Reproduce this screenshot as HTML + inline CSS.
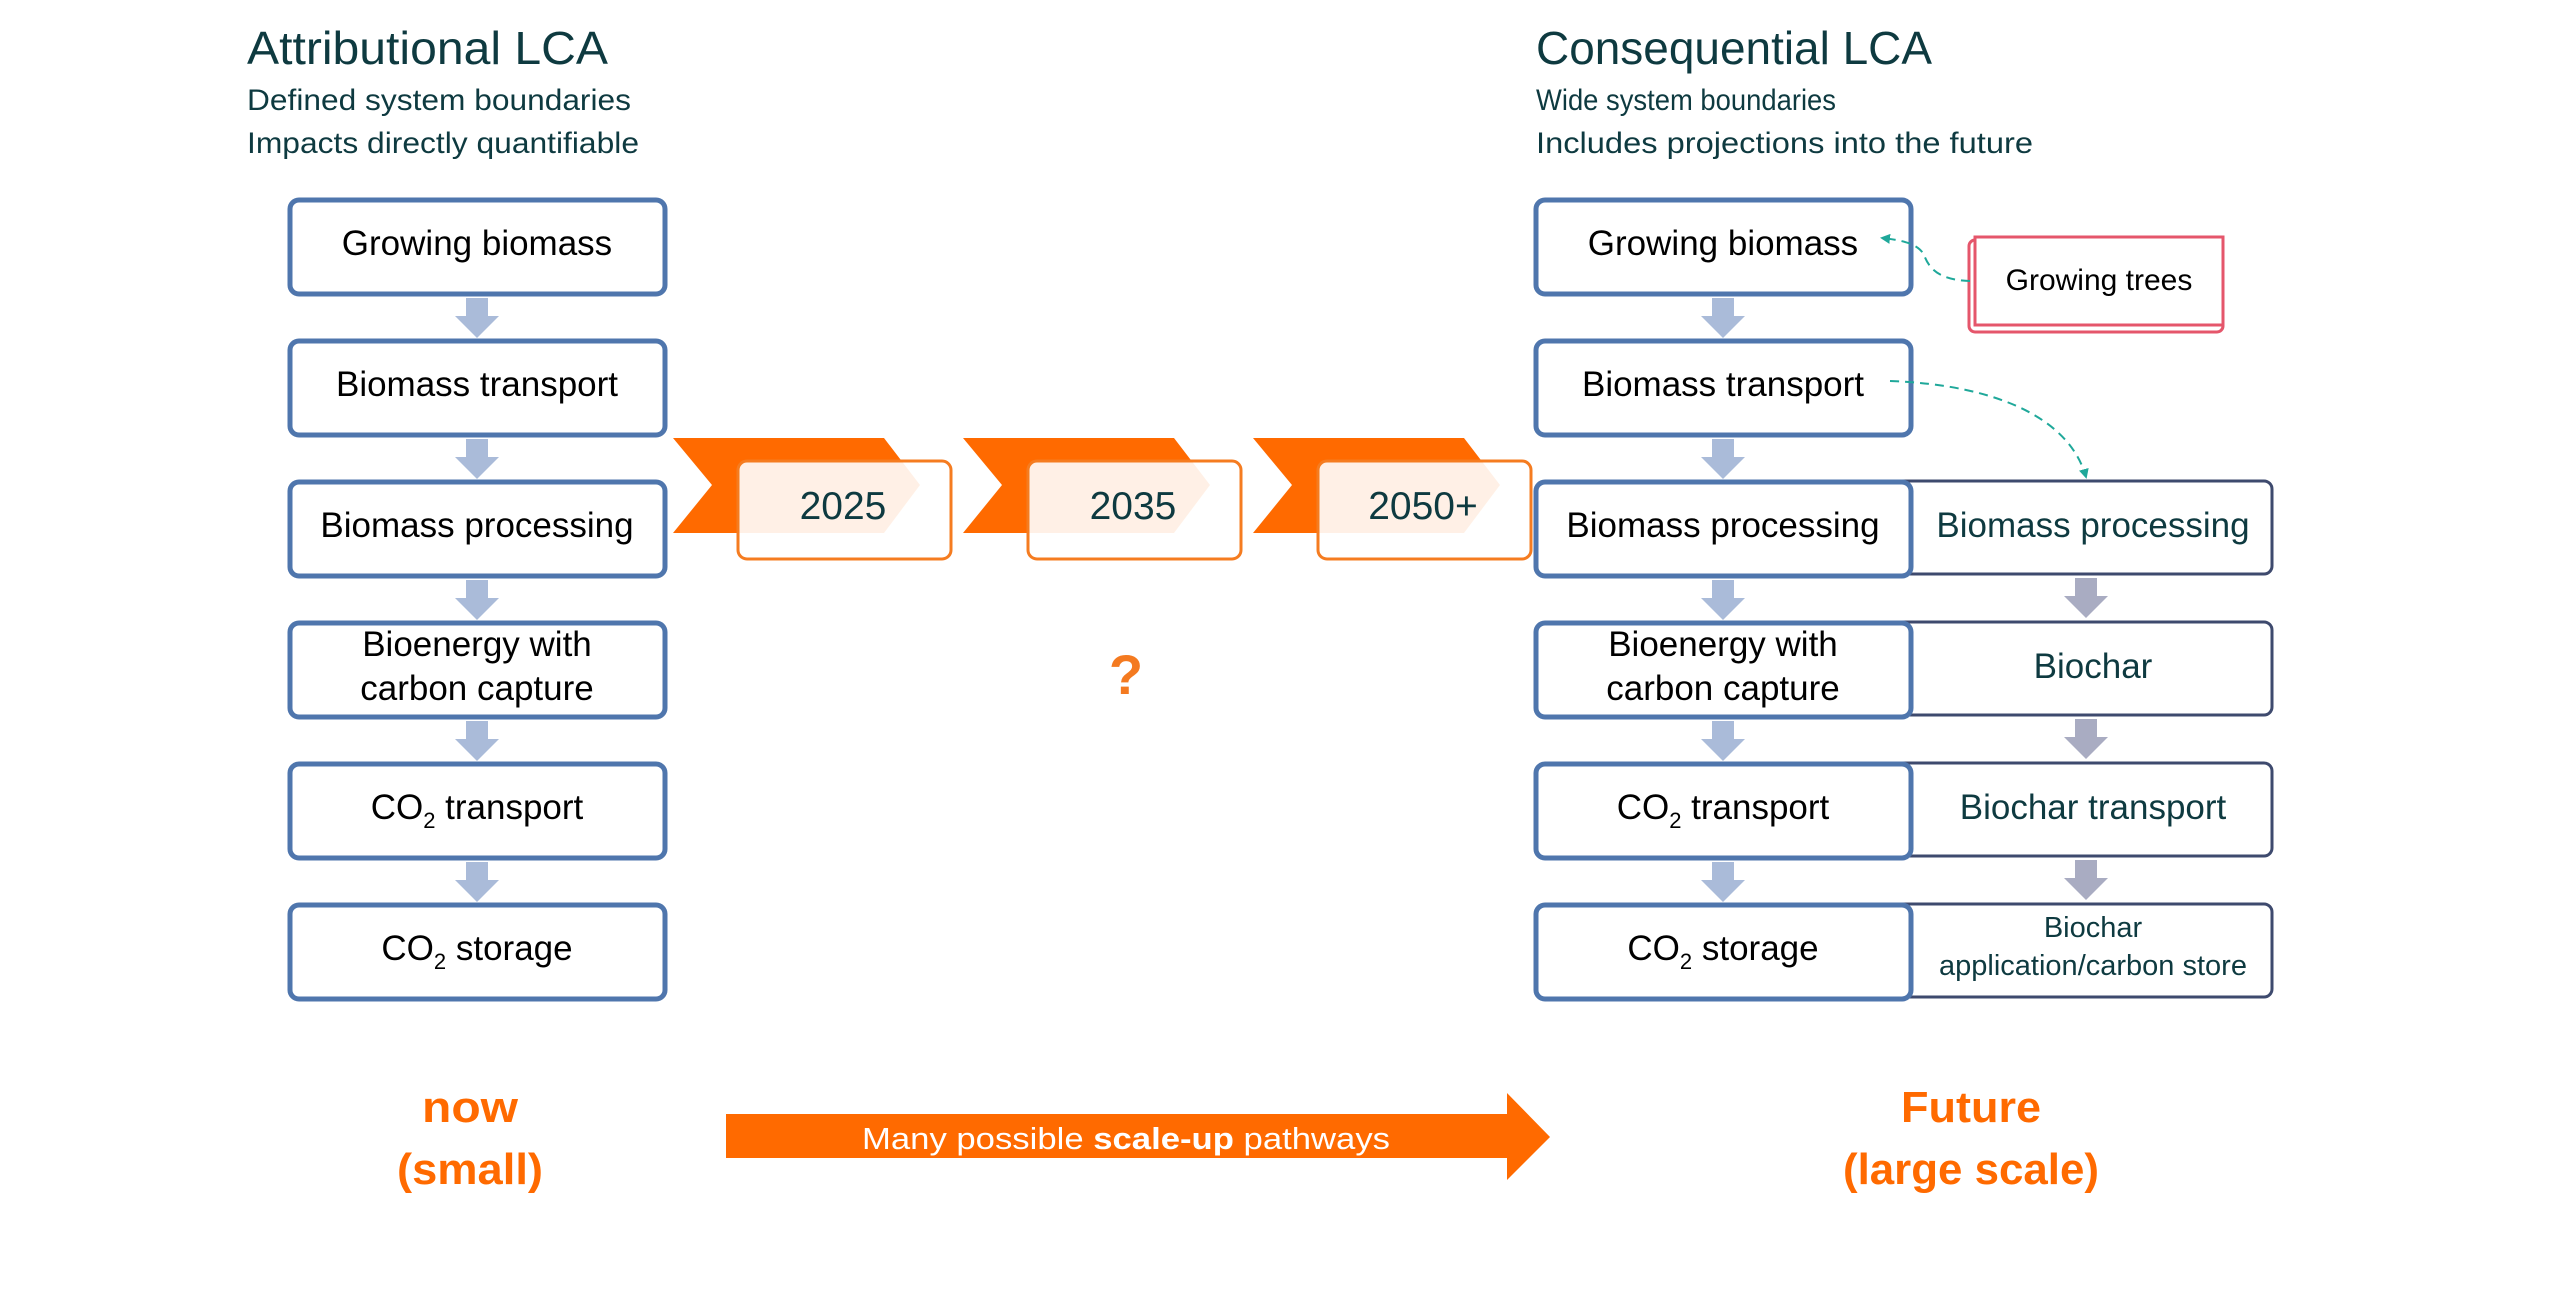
<!DOCTYPE html>
<html><head><meta charset="utf-8"><style>
html,body{margin:0;padding:0;background:#fff}
svg{display:block}
text{font-family:"Liberation Sans",sans-serif}
</style></head><body>
<svg width="2560" height="1292" viewBox="0 0 2560 1292" xmlns="http://www.w3.org/2000/svg">
<defs>
<g id="darr"><polygon points="-11,0 11,0 11,18 22,18 0,40 -22,18 -11,18"/></g>
<marker id="tm" markerWidth="10" markerHeight="10" refX="8" refY="5" orient="auto" markerUnits="userSpaceOnUse" viewBox="0 0 10 10"><polygon points="0,0 10,5 0,10" fill="#1fa89a"/></marker>
</defs>
<g fill="#0e3a40">
<text x="247" y="64" font-size="46" textLength="361" lengthAdjust="spacingAndGlyphs">Attributional LCA</text>
<text x="247" y="110" font-size="30" textLength="384" lengthAdjust="spacingAndGlyphs">Defined system boundaries</text>
<text x="247" y="153" font-size="30" textLength="392" lengthAdjust="spacingAndGlyphs">Impacts directly quantifiable</text>
<text x="1536" y="64" font-size="46" textLength="396" lengthAdjust="spacingAndGlyphs">Consequential LCA</text>
<text x="1536" y="110" font-size="30" textLength="300" lengthAdjust="spacingAndGlyphs">Wide system boundaries</text>
<text x="1536" y="153" font-size="30" textLength="497" lengthAdjust="spacingAndGlyphs">Includes projections into the future</text>
</g>
<g fill="#fff" stroke="#3e4a6e" stroke-width="3">
<rect x="1890" y="481" width="382" height="93" rx="8"/>
<rect x="1890" y="622" width="382" height="93" rx="8"/>
<rect x="1890" y="763" width="382" height="93" rx="8"/>
<rect x="1890" y="904" width="382" height="93" rx="8"/>
</g>
<g fill="#a9acc2">
<use href="#darr" x="2086" y="578"/><use href="#darr" x="2086" y="719"/><use href="#darr" x="2086" y="860"/>
</g>
<g fill="#fff" stroke="#4f76ad" stroke-width="5">
<rect x="290" y="200" width="375" height="94" rx="9"/>
<rect x="290" y="341" width="375" height="94" rx="9"/>
<rect x="290" y="482" width="375" height="94" rx="9"/>
<rect x="290" y="623" width="375" height="94" rx="9"/>
<rect x="290" y="764" width="375" height="94" rx="9"/>
<rect x="290" y="905" width="375" height="94" rx="9"/>
<rect x="1536" y="200" width="375" height="94" rx="9"/>
<rect x="1536" y="341" width="375" height="94" rx="9"/>
<rect x="1536" y="482" width="375" height="94" rx="9"/>
<rect x="1536" y="623" width="375" height="94" rx="9"/>
<rect x="1536" y="764" width="375" height="94" rx="9"/>
<rect x="1536" y="905" width="375" height="94" rx="9"/>
</g>
<g fill="#aabbd9">
<use href="#darr" x="477" y="298"/><use href="#darr" x="477" y="439"/><use href="#darr" x="477" y="580"/><use href="#darr" x="477" y="721"/><use href="#darr" x="477" y="862"/>
<use href="#darr" x="1723" y="298"/><use href="#darr" x="1723" y="439"/><use href="#darr" x="1723" y="580"/><use href="#darr" x="1723" y="721"/><use href="#darr" x="1723" y="862"/>
</g>
<g fill="#000" font-size="35" text-anchor="middle">
<text x="477" y="255">Growing biomass</text>
<text x="477" y="396">Biomass transport</text>
<text x="477" y="537">Biomass processing</text>
<text x="477" y="656">Bioenergy with</text>
<text x="477" y="700">carbon capture</text>
<text x="477" y="819">CO<tspan font-size="22" dy="9">2</tspan><tspan dy="-9"> transport</tspan></text>
<text x="477" y="960">CO<tspan font-size="22" dy="9">2</tspan><tspan dy="-9"> storage</tspan></text>
<text x="1723" y="255">Growing biomass</text>
<text x="1723" y="396">Biomass transport</text>
<text x="1723" y="537">Biomass processing</text>
<text x="1723" y="656">Bioenergy with</text>
<text x="1723" y="700">carbon capture</text>
<text x="1723" y="819">CO<tspan font-size="22" dy="9">2</tspan><tspan dy="-9"> transport</tspan></text>
<text x="1723" y="960">CO<tspan font-size="22" dy="9">2</tspan><tspan dy="-9"> storage</tspan></text>
</g>
<g fill="#0e3a40" font-size="35" text-anchor="middle">
<text x="2093" y="537">Biomass processing</text>
<text x="2093" y="678">Biochar</text>
<text x="2093" y="819">Biochar transport</text>
<text x="2093" y="937" font-size="29">Biochar</text>
<text x="2093" y="975" font-size="29">application/carbon store</text>
</g>
<rect x="1969" y="240" width="254" height="92" rx="6" fill="#fff" stroke="#e5566b" stroke-width="3"/>
<rect x="1975" y="237" width="248" height="88" fill="#fff" stroke="#e5566b" stroke-width="3"/>
<text x="2099" y="290" font-size="30" text-anchor="middle" fill="#000">Growing trees</text>
<path d="M1970,281 C1935,280 1928,265 1924,255 C1918,243 1900,240 1882,238" fill="none" stroke="#1fa89a" stroke-width="2" stroke-dasharray="9,6" marker-end="url(#tm)"/>
<path d="M1890,381 C2000,385 2070,420 2086,477" fill="none" stroke="#1fa89a" stroke-width="2" stroke-dasharray="9,6" marker-end="url(#tm)"/>
<g id="ch">
<polygon points="673,438 884,438 920,485 884,533 673,533 712,485" fill="#ff6a00"/>
<rect x="738" y="461" width="213" height="98" rx="9" fill="#fff" fill-opacity="0.9" stroke="#f57c20" stroke-width="3"/>
</g>
<use href="#ch" x="290"/>
<use href="#ch" x="580"/>
<g fill="#0e3a40" font-size="39" text-anchor="middle">
<text x="843" y="519">2025</text>
<text x="1133" y="519">2035</text>
<text x="1423" y="519">2050+</text>
</g>
<text x="1126" y="694" font-size="56" font-weight="bold" fill="#f47a20" text-anchor="middle">?</text>
<g fill="#ff6a00" font-size="44" font-weight="bold" text-anchor="middle">
<text x="470" y="1122" textLength="96" lengthAdjust="spacingAndGlyphs">now</text>
<text x="470" y="1184" textLength="146" lengthAdjust="spacingAndGlyphs">(small)</text>
<text x="1971" y="1122" textLength="140" lengthAdjust="spacingAndGlyphs">Future</text>
<text x="1971" y="1184" textLength="256" lengthAdjust="spacingAndGlyphs">(large scale)</text>
</g>
<polygon points="726,1114 1507,1114 1507,1093 1550,1137 1507,1180 1507,1158 726,1158" fill="#ff6a00"/>
<text x="1126" y="1149" font-size="31" fill="#fff" text-anchor="middle" textLength="528" lengthAdjust="spacingAndGlyphs">Many possible <tspan font-weight="bold">scale-up</tspan> pathways</text>
</svg>
</body></html>
